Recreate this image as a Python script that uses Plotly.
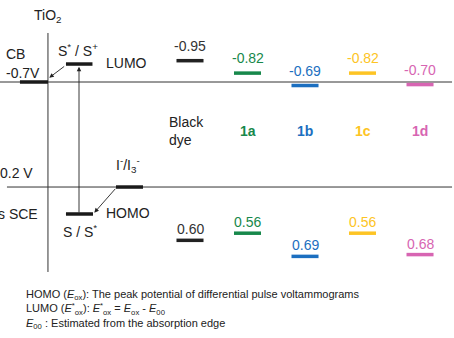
import plotly.graph_objects as go

# ---- data ----
dyes = ["Black<br>dye", "1a", "1b", "1c", "1d"]
lumo = [-0.95, -0.82, -0.69, -0.82, -0.70]
homo = [0.60, 0.56, 0.69, 0.56, 0.68]
colors = ["#222222", "#17884b", "#1c6fc0", "#fdc424", "#d765b2"]
label_colors = ["#333333", "#17884b", "#1c6fc0", "#fdc424", "#d765b2"]

tio2_cb = -0.7      # TiO2 conduction band (V vs SCE)
redox = 0.2         # I-/I3- (V vs SCE)
s_star = -0.854     # schematic S*/S+ level
s_ground = 0.431    # schematic S/S+ level

TXT = "#222222"
FONT = "Liberation Sans, Arial, sans-serif"

fig = go.Figure()

# reference lines (axis y)
fig.add_trace(go.Scatter(x=[-3.304, 4.557], y=[tio2_cb, tio2_cb], mode="lines",
                         line=dict(color="#333333", width=1), yaxis="y", hoverinfo="skip"))
fig.add_trace(go.Scatter(x=[-3.183, 4.557], y=[redox, redox], mode="lines",
                         line=dict(color="#333333", width=1), yaxis="y", hoverinfo="skip"))
# TiO2 vertical line
fig.add_trace(go.Scatter(x=[-2.470, -2.470], y=[-1.12, 0.928], mode="lines",
                         line=dict(color="#333333", width=1), yaxis="y", hoverinfo="skip"))
# schematic thick bars
for xs, yv in [([-2.957, -2.470], tio2_cb), ([-2.157, -1.696], s_star),
               ([-2.157, -1.687], s_ground), ([-1.287, -0.817], redox)]:
    fig.add_trace(go.Scatter(x=xs, y=[yv, yv], mode="lines",
                             line=dict(color="#1a1a1a", width=3.5), yaxis="y", hoverinfo="skip"))

# dye levels
hw = 0.235
for i, (l, h, c) in enumerate(zip(lumo, homo, colors)):
    fig.add_trace(go.Scatter(x=[i - hw, i + hw], y=[l, l], mode="lines",
                             line=dict(color=c, width=3.5), yaxis="y2", hoverinfo="skip"))
    fig.add_trace(go.Scatter(x=[i - hw, i + hw], y=[h, h], mode="lines",
                             line=dict(color=c, width=3.5), yaxis="y3", hoverinfo="skip"))

ann = []
for i, (l, h, c) in enumerate(zip(lumo, homo, label_colors)):
    ann.append(dict(x=i, y=l, xref="x", yref="y2", text=f"{l:.2f}", showarrow=False,
                    yshift=15, font=dict(size=14, color=c, family=FONT)))
    ann.append(dict(x=i, y=h, xref="x", yref="y3", text=f"{h:.2f}", showarrow=False,
                    yshift=11, font=dict(size=14, color=c, family=FONT)))
    if i == 0:
        ann.append(dict(x=-0.40, y=-0.282, xref="x", yref="y", text=dyes[i], showarrow=False,
                        xanchor="left", align="left", font=dict(size=14, color=TXT, family=FONT)))
    else:
        ann.append(dict(x=i, y=-0.283, xref="x", yref="y", text=f"<b>{dyes[i]}</b>",
                        showarrow=False, font=dict(size=14, color=c, family=FONT)))

def txt(x, y, t, xa="center", size=14):
    ann.append(dict(x=x, y=y, xref="x", yref="y", text=t, showarrow=False, xanchor=xa,
                    font=dict(size=size, color=TXT, family=FONT)))

txt(-2.47, -1.268, "TiO<sub>2</sub>")
txt(-3.235, -0.937, "CB", "left")
txt(-3.235, -0.780, "-0.7V", "left")
txt(-1.939, -0.974, "S<sup>*</sup> / S<sup>+</sup>")
txt(-1.496, -0.865, "LUMO", "left")
txt(-1.078, 0.011, "I<sup>-</sup>/I<sub>3</sub><sup>-</sup>")
txt(-1.496, 0.425, "HOMO", "left")
txt(-1.913, 0.577, "S / S<sup>*</sup>")
txt(-2.690, 0.082, "0.2 V", "right")
txt(-2.609, 0.434, "vs SCE", "right")

# arrows
def arrow(x0, y0, x1, y1):
    ann.append(dict(x=x1, y=y1, ax=x0, ay=y0, xref="x", yref="y", axref="x", ayref="y",
                    text="", showarrow=True, arrowhead=2, arrowsize=1, arrowwidth=0.9,
                    arrowcolor="#222222"))

arrow(-1.930, s_ground, -1.930, -0.831)
arrow(-2.162, -0.843, -2.447, -0.737)
arrow(-1.275, 0.202, -1.664, 0.420)

# footnotes
notes = [
    "HOMO (<i>E</i><sub>ox</sub>): The peak potential of differential pulse voltammograms",
    "LUMO (<i>E</i><sup>*</sup><sub>ox</sub>): <i>E</i><sup>*</sup><sub>ox</sub> = <i>E</i><sub>ox</sub> - <i>E</i><sub>00</sub>",
    "<i>E</i><sub>00</sub> : Estimated from the absorption edge",
]
ann.append(dict(x=0.053, y=1 - 309 / 338, xref="paper", yref="paper", text="<br>".join(notes),
                showarrow=False, xanchor="left", yanchor="middle", align="left",
                font=dict(size=11, color=TXT, family=FONT)))

hidden = dict(visible=False, showgrid=False, zeroline=False, fixedrange=True)
fig.update_layout(
    width=454, height=338, margin=dict(l=0, r=0, t=0, b=0),
    paper_bgcolor="white", plot_bgcolor="white", showlegend=False,
    xaxis=dict(range=[-3.304, 4.591], **hidden),
    yaxis=dict(range=[1.4937, -1.4027], **hidden),
    yaxis2=dict(range=[1.9537, -1.5855], overlaying="y", **hidden),
    yaxis3=dict(range=[1.1478, -0.7479], overlaying="y", **hidden),
    annotations=ann,
)
fig.write_html("out.html")
